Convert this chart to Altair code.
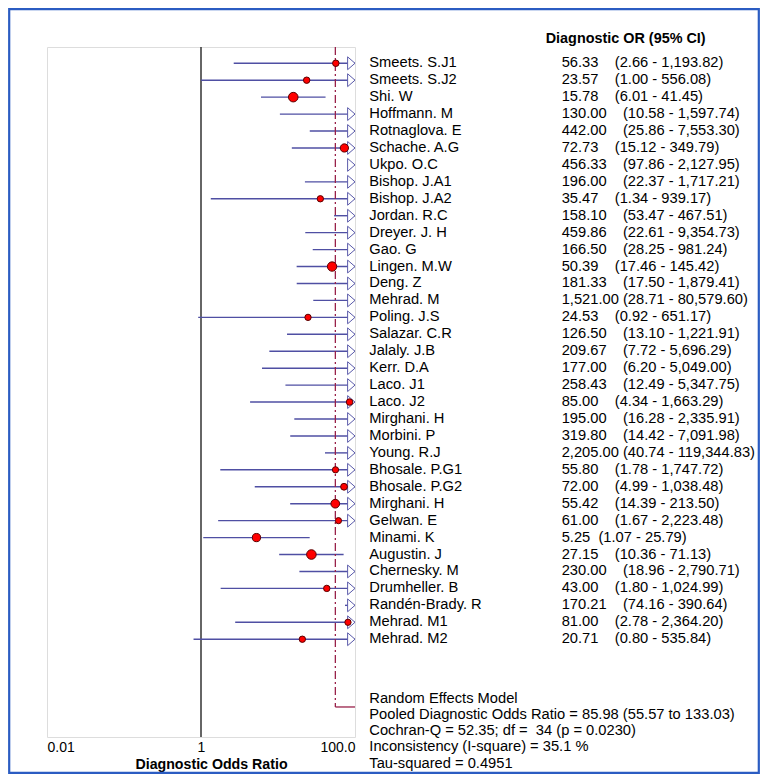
import altair as alt
import pandas as pd

# ---------------- data ----------------
names = [
    "Smeets. S.J1", "Smeets. S.J2", "Shi. W", "Hoffmann. M", "Rotnaglova. E",
    "Schache. A.G", "Ukpo. O.C", "Bishop. J.A1", "Bishop. J.A2", "Jordan. R.C",
    "Dreyer. J. H", "Gao. G", "Lingen. M.W", "Deng. Z", "Mehrad. M",
    "Poling. J.S", "Salazar. C.R", "Jalaly. J.B", "Kerr. D.A", "Laco. J1",
    "Laco. J2", "Mirghani. H", "Morbini. P", "Young. R.J", "Bhosale. P.G1",
    "Bhosale. P.G2", "Mirghani. H", "Gelwan. E", "Minami. K", "Augustin. J",
    "Chernesky. M", "Drumheller. B", "Randén-Brady. R", "Mehrad. M1", "Mehrad. M2",
]
dor = [
    56.33, 23.57, 15.78, 130.00, 442.00,
    72.73, 456.33, 196.00, 35.47, 158.10,
    459.86, 166.50, 50.39, 181.33, 1521.00,
    24.53, 126.50, 209.67, 177.00, 258.43,
    85.00, 195.00, 319.80, 2205.00, 55.80,
    72.00, 55.42, 61.00, 5.25, 27.15,
    230.00, 43.00, 170.21, 81.00, 20.71,
]
ci_lo = [
    2.66, 1.00, 6.01, 10.58, 25.86,
    15.12, 97.86, 22.37, 1.34, 53.47,
    22.61, 28.25, 17.46, 17.50, 28.71,
    0.92, 13.10, 7.72, 6.20, 12.49,
    4.34, 16.28, 14.42, 40.74, 1.78,
    4.99, 14.39, 1.67, 1.07, 10.36,
    18.96, 1.80, 74.16, 2.78, 0.80,
]
ci_hi = [
    1193.82, 556.08, 41.45, 1597.74, 7553.30,
    349.79, 2127.95, 1717.21, 939.17, 467.51,
    9354.73, 981.24, 145.42, 1879.41, 80579.60,
    651.17, 1221.91, 5696.29, 5049.00, 5347.75,
    1663.29, 2335.91, 7091.98, 119344.83, 1747.72,
    1038.48, 213.50, 2223.48, 25.79, 71.13,
    2790.71, 1024.99, 390.64, 2364.20, 535.84,
]

pooled_lo = 55.57
pooled_hi = 133.03
tau_squared = 0.4951

header_text = "Diagnostic OR (95% CI)"
footer_lines = [
    "Random Effects Model",
    "Pooled Diagnostic Odds Ratio = 85.98 (55.57 to 133.03)",
    "Cochran-Q = 52.35; df =\u00a0 34 (p = 0.0230)",
    "Inconsistency (I-square) = 35.1 %",
    "Tau-squared = 0.4951",
]
axis_ticks = [0.01, 1, 100]
axis_title = "Diagnostic Odds Ratio"

# ---------------- tables ----------------
def fmt(v):
    return f"{v:,.2f}"

NB = "\u00a0"
gap = {4: 2, 5: 4, 6: 4, 7: 2, 8: 1}
labels = []
for o, lo, hi in zip(dor, ci_lo, ci_hi):
    s = fmt(o)
    labels.append(s + NB * gap.get(len(s), 2) + f"({fmt(lo)} - {fmt(hi)})")

n = len(names)
df = pd.DataFrame({
    "row": list(range(n)),
    "name": names,
    "dor": dor,
    "lo": ci_lo,
    "hi": ci_hi,
    "label": labels,
})
pooled_row = n + 3  # summary line sits three rows below the last study

W, H = 308, 690
row_px = 16.94
top_row = -0.96
bottom_row = top_row + H / row_px

foot = pd.DataFrame({"k": list(range(len(footer_lines))), "text": footer_lines})
foot["row"] = pooled_row - 0.5 + foot["k"] * 0.96
hdr = pd.DataFrame({"text": [header_text], "row": [-1.43]})
unity = pd.DataFrame({"v": [1.0]})
one = pd.DataFrame({"a": [0]})
pooled_df = pd.DataFrame({"lo": [pooled_lo], "hi": [pooled_hi],
                          "row": [pooled_row], "top": [top_row]})

FONT = "Liberation Sans"
xscale = alt.Scale(type="log", domain=[0.01, 100], clamp=True, nice=False)
yscale = alt.Scale(domain=[top_row, bottom_row], reverse=True, nice=False, zero=False)
xaxis = alt.Axis(
    values=axis_ticks,
    labelExpr="datum.value >= 100 ? '100.0' : (datum.value >= 1 ? '1' : '0.01')",
    labelFlush=True, labelOverlap=False, domain=False, ticks=False, grid=False,
    labelFont=FONT, labelFontSize=14, labelColor="black", labelPadding=3,
    title=axis_title, titleFont=FONT, titleFontSize=14.2, titleFontWeight="bold",
    titleColor="black", titlePadding=3, titleX=164,
)

def X(field):
    return alt.X(field, type="quantitative", scale=xscale, axis=xaxis)

def Y(field="row"):
    return alt.Y(field, type="quantitative", scale=yscale, axis=None)

base = alt.Chart(df)

ci_rules = base.mark_rule(color="#4f4fa3", strokeWidth=1.4).encode(
    x=X("lo"), x2=alt.X2("hi"), y=Y()
)

arrows = base.transform_filter("datum.hi > 100").transform_calculate(
    cap="100"
).mark_point(
    shape="M-1.15,-1L0,0L-1.15,1Z", size=165, filled=True,
    fill="white", stroke="#5a5aaa", strokeWidth=1, opacity=1,
).encode(x=X("cap"), y=Y())

points = base.transform_filter("datum.dor <= 100").transform_calculate(
    w=f"1 / (pow((log(datum.hi) - log(datum.lo)) / 3.92, 2) + {tau_squared})"
).mark_point(
    shape="circle", filled=True, fill="#ff0000", stroke="#5a0000",
    strokeWidth=1, opacity=1,
).encode(
    x=X("dor"), y=Y(),
    size=alt.Size("w:Q", scale=alt.Scale(domain=[0.3, 1.36], range=[40, 92]), legend=None),
)

one_line = alt.Chart(unity).mark_rule(color="#333333", strokeWidth=1.5).encode(
    x=X("v")
)

pooled_v = alt.Chart(pooled_df).mark_rule(
    color="#99224a", strokeWidth=1.3, strokeDash=[8, 3, 2, 3]
).encode(x=X("lo"), y=Y("top"), y2=alt.Y2("row"))
pooled_h = alt.Chart(pooled_df).mark_rule(color="#99224a", strokeWidth=1.3).encode(
    x=X("lo"), x2=alt.X2("hi"), y=Y()
)

names_txt = base.mark_text(
    align="left", baseline="middle", font=FONT, fontSize=14.7, color="black"
).encode(x=alt.value(322.3), y=Y(), text=alt.Text("name:N"))

vals_txt = base.mark_text(
    align="left", baseline="middle", font=FONT, fontSize=14.7, color="black"
).encode(x=alt.value(514.7), y=Y(), text=alt.Text("label:N"))

header = alt.Chart(hdr).mark_text(
    align="left", baseline="middle", font=FONT, fontSize=14.4,
    fontWeight="bold", color="black",
).encode(x=alt.value(498.7), y=Y(), text=alt.Text("text:N"))

footer = alt.Chart(foot).mark_text(
    align="left", baseline="middle", font=FONT, fontSize=14.7, color="black"
).encode(x=alt.value(322.3), y=Y(), text=alt.Text("text:N"))

border = alt.Chart(one).mark_rect(
    fillOpacity=0, stroke="#2b5cc2", strokeWidth=2.2
).encode(
    x=alt.value(-37.8), x2=alt.value(711.8), y=alt.value(-37.8), y2=alt.value(725.9)
)

chart = alt.layer(
    border, one_line, ci_rules, pooled_v, pooled_h, arrows, points,
    names_txt, vals_txt, header, footer,
).properties(
    width=W, height=H, autosize="none",
    padding={"left": 39, "top": 39, "right": 405, "bottom": 766 - 39 - H},
).configure_view(stroke="#767676", strokeWidth=2).configure(background="white")

chart.save("out.html", embed_options={"renderer": "svg", "actions": False})
